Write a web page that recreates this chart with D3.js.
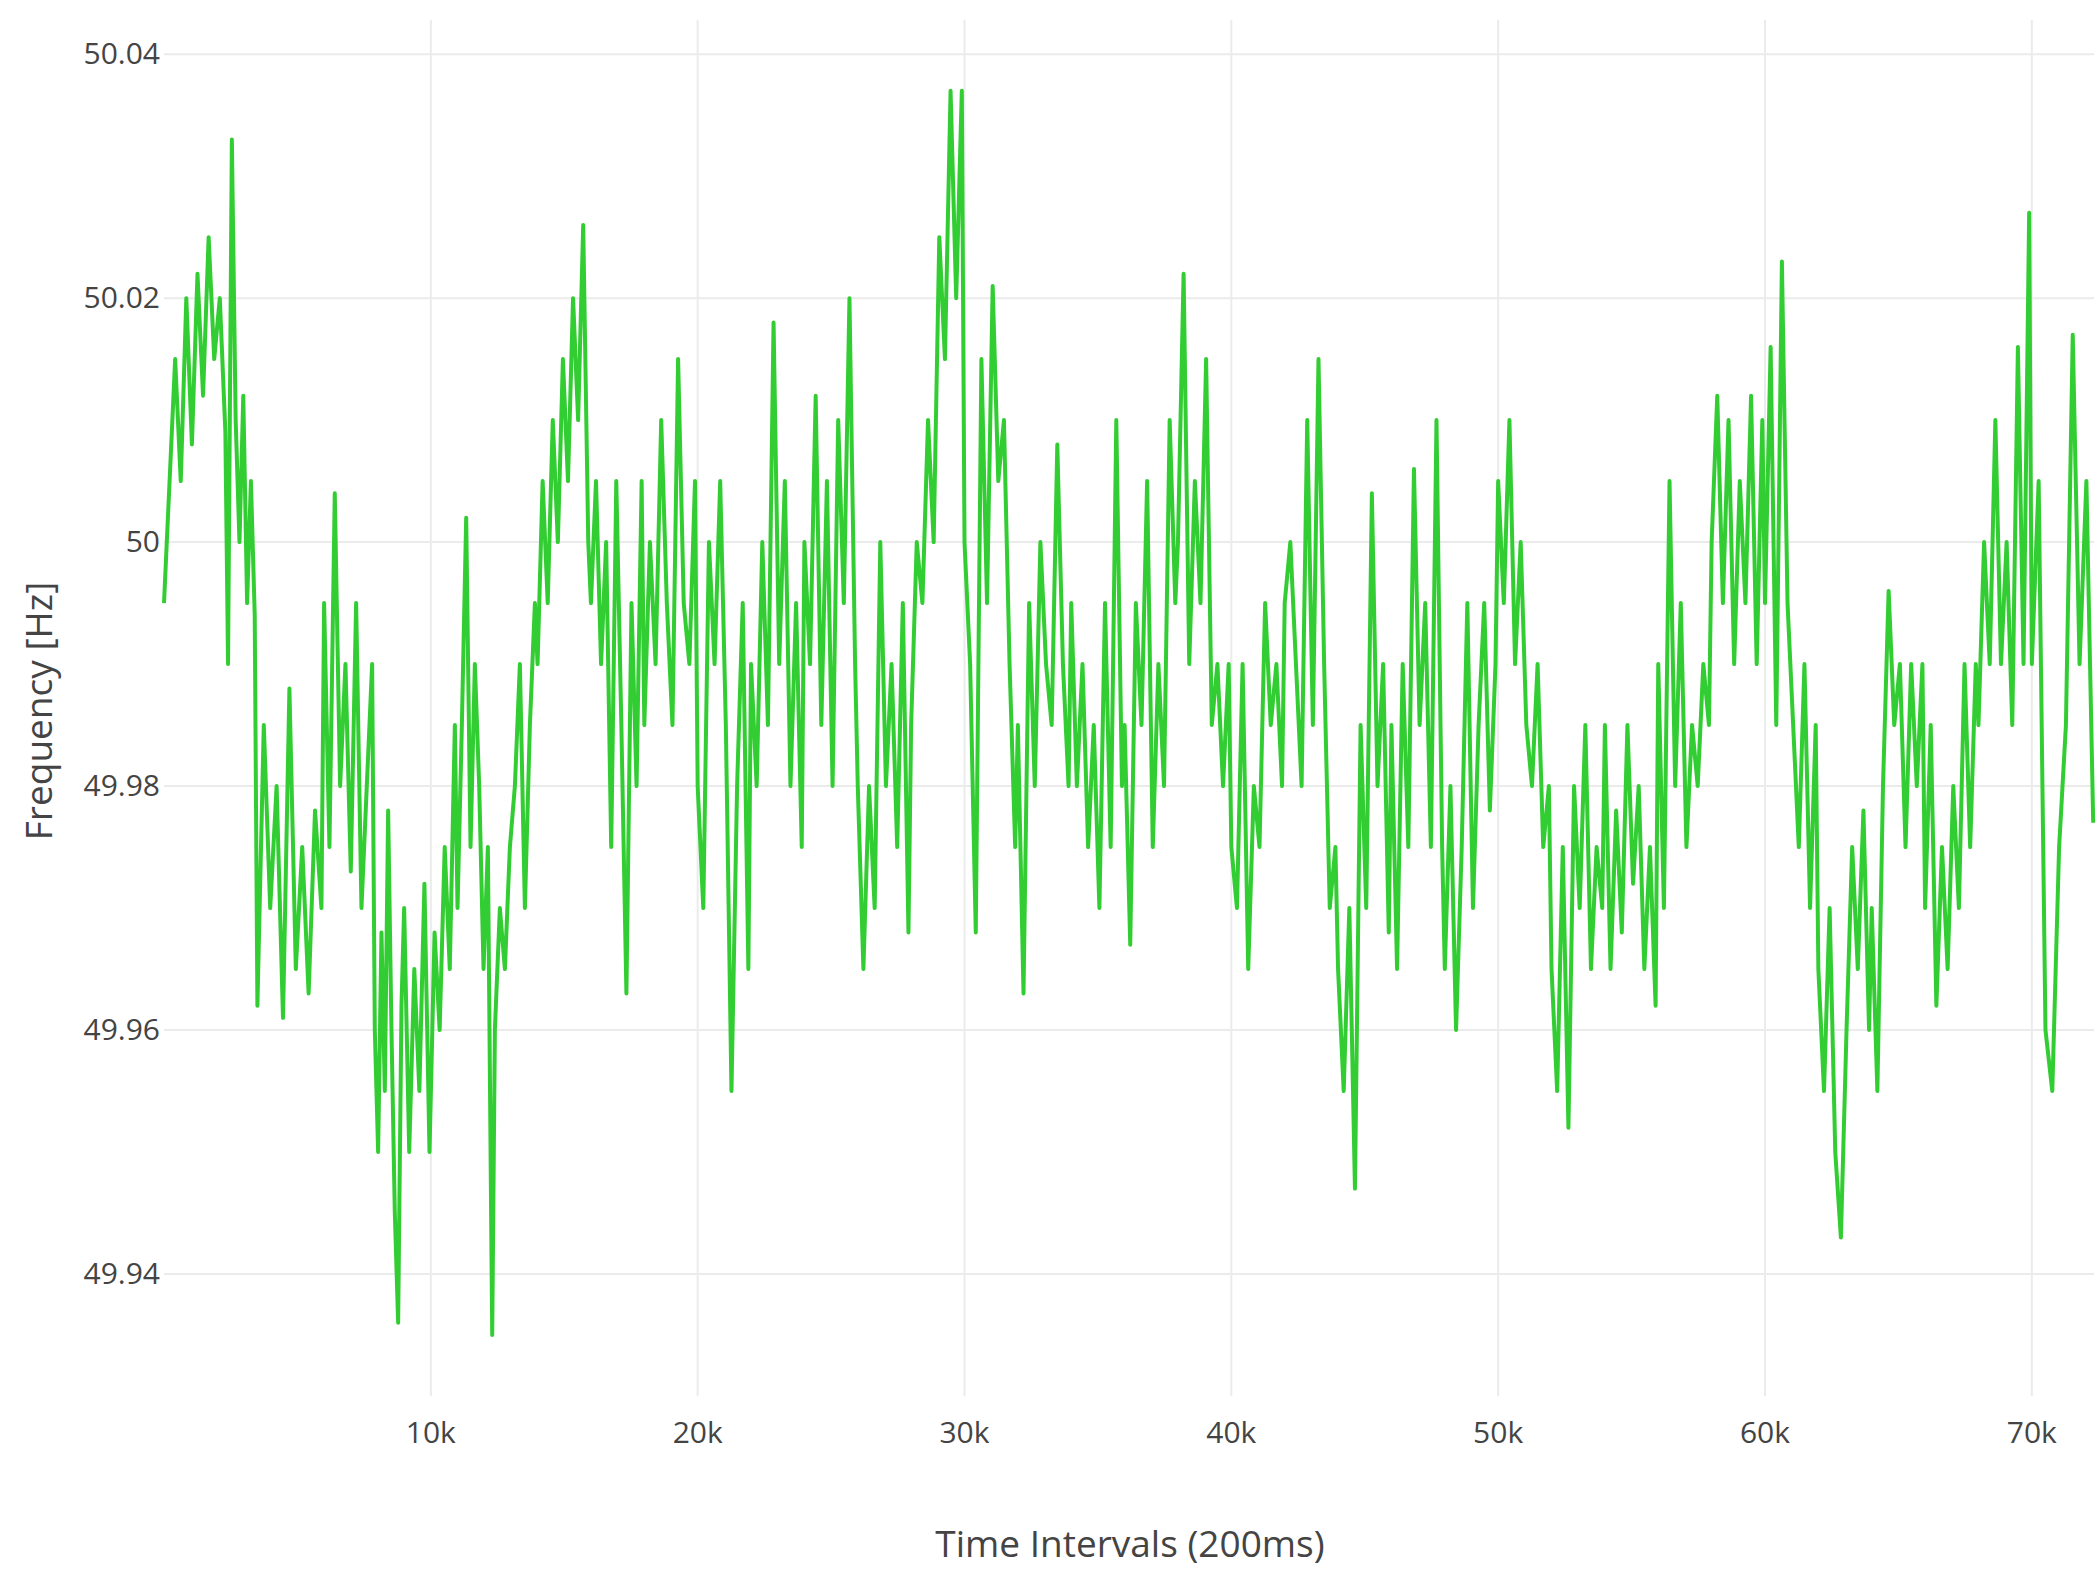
<!DOCTYPE html><html><head><meta charset="utf-8">
<script src="https://cdn.jsdelivr.net/npm/d3@7"></script>
<style>body{margin:0;background:#fff}</style></head><body><svg id="c" width="2100" height="1569"></svg>
<script>
const xTicks=[10000,20000,30000,40000,50000,60000,70000];
const xTickLabels=["10k","20k","30k","40k","50k","60k","70k"];
const yTicks=[49.94,49.96,49.98,50,50.02,50.04];
const yTickLabels=["49.94","49.96","49.98","50","50.02","50.04"];
// segment time spans (intervals) and the frequency readings inside each
const segStart=[0,2400,3500,6000,7900,9000,11000,12400,14000,16000,18000,20000,22000,24000,26000,28000,30000,32000,34000,36000,38000,40000,42000,44000,46000,48000,50000,52000,54000,56000,58000,60000,62000,64000,66000,68000,70000];
const segEnd=[2300,3400,5900,7800,8900,10900,12300,13900,15900,17900,19900,21900,23900,25900,27900,29900,31900,33900,35900,37900,39900,41900,43900,45900,47900,49900,51900,53900,55900,57900,59900,61900,63900,65900,67900,69900,72300];
const segValues=[
[49.995,50.005,50.015,50.005,50.02,50.008,50.022,50.012,50.025,50.015,50.02,50.009],
[49.99,50.033,50.01,50.0,50.012,49.995,50.005,49.994],
[49.962,49.985,49.97,49.98,49.961,49.988,49.965,49.975,49.963,49.978,49.97],
[49.995,49.975,50.004,49.98,49.99,49.973,49.995,49.97,49.98,49.99],
[49.96,49.95,49.968,49.955,49.978,49.96,49.945,49.936,49.962],
[49.97,49.95,49.965,49.955,49.972,49.95,49.968,49.96,49.975,49.965,49.985],
[49.97,49.985,50.002,49.975,49.99,49.98,49.965,49.975,49.935],
[49.96,49.97,49.965,49.975,49.98,49.99,49.97,49.985,49.995],
[49.99,50.005,49.995,50.01,50.0,50.015,50.005,50.02,50.01,50.026,50.0],
[49.995,50.005,49.99,50.0,49.975,50.005,49.985,49.963,49.995,49.98,50.005],
[49.985,50.0,49.99,50.01,49.995,49.985,50.015,49.995,49.99,50.005],
[49.98,49.97,50.0,49.99,50.005,49.985,49.955,49.98,49.995,49.965],
[49.99,49.98,50.0,49.985,50.018,49.99,50.005,49.98,49.995,49.975],
[50.0,49.99,50.012,49.985,50.005,49.98,50.01,49.995,50.02,49.99],
[49.98,49.965,49.98,49.97,50.0,49.98,49.99,49.975,49.995,49.968],
[49.985,50.0,49.995,50.01,50.0,50.025,50.015,50.037,50.02,50.037],
[50.0,49.99,49.968,50.015,49.995,50.021,50.005,50.01,49.99,49.975],
[49.985,49.963,49.995,49.98,50.0,49.99,49.985,50.008,49.99,49.98],
[49.995,49.98,49.99,49.975,49.985,49.97,49.995,49.975,50.01,49.98],
[49.985,49.967,49.995,49.985,50.005,49.975,49.99,49.98,50.01,49.995],
[50.0,50.022,49.99,50.005,49.995,50.015,49.985,49.99,49.98,49.99],
[49.975,49.97,49.99,49.965,49.98,49.975,49.995,49.985,49.99,49.98],
[49.995,50.0,49.99,49.98,50.01,49.985,50.015,49.99,49.97,49.975],
[49.965,49.955,49.97,49.947,49.985,49.97,50.004,49.98,49.99,49.968],
[49.985,49.965,49.99,49.975,50.006,49.985,49.995,49.975,50.01,49.975],
[49.965,49.98,49.96,49.975,49.995,49.97,49.985,49.995,49.978,49.99],
[50.005,49.995,50.01,49.99,50.0,49.985,49.98,49.99,49.975,49.98],
[49.965,49.955,49.975,49.952,49.98,49.97,49.985,49.965,49.975,49.97],
[49.985,49.965,49.978,49.968,49.985,49.972,49.98,49.965,49.975,49.962],
[49.99,49.97,50.005,49.98,49.995,49.975,49.985,49.98,49.99,49.985],
[50.0,50.012,49.995,50.01,49.99,50.005,49.995,50.012,49.99,50.01],
[49.995,50.016,49.985,50.023,49.995,49.985,49.975,49.99,49.97,49.985],
[49.965,49.955,49.97,49.95,49.943,49.96,49.975,49.965,49.978,49.96],
[49.97,49.955,49.98,49.996,49.985,49.99,49.975,49.99,49.98,49.99],
[49.97,49.985,49.962,49.975,49.965,49.98,49.97,49.99,49.975,49.99],
[49.985,50.0,49.99,50.01,49.99,50.0,49.985,50.016,49.99,50.027],
[49.99,50.005,49.96,49.955,49.975,49.985,50.017,49.99,50.005,49.977]];
const points=[];
segValues.forEach((vals,s)=>{const sc=d3.scaleLinear().domain([0,Math.max(1,vals.length-1)]).range([segStart[s],segEnd[s]]);vals.forEach((v,i)=>points.push([sc(i),v]));});
const L=164,R=2094,T=20,B=1396;
const svg=d3.select("#c");
const x=d3.scaleLinear().domain([0,72330]).range([L,R]);
const y=d3.scaleLinear().domain([49.93,50.0428]).range([B,T]);
const g=svg.append("g");
g.selectAll("line.v").data(xTicks).join("line").attr("x1",d=>x(d)).attr("x2",d=>x(d)).attr("y1",T).attr("y2",B).attr("stroke","#ebebeb").attr("stroke-width",2);
g.selectAll("line.h").data(yTicks).join("line").attr("y1",d=>y(d)).attr("y2",d=>y(d)).attr("x1",L).attr("x2",R).attr("stroke","#ebebeb").attr("stroke-width",2);
const font="'Open Sans', sans-serif";
svg.append("g").selectAll("text").data(xTicks).join("text").attr("x",d=>x(d)).attr("y",1443).attr("text-anchor","middle").attr("font-family",font).attr("font-size",30).attr("fill","#444").text((d,i)=>xTickLabels[i]);
svg.append("g").selectAll("text").data(yTicks).join("text").attr("x",160).attr("y",d=>y(d)+10).attr("text-anchor","end").attr("font-family",font).attr("font-size",30).attr("fill","#444").text((d,i)=>yTickLabels[i]);
const line=d3.line().x(d=>x(d[0])).y(d=>y(d[1]));
svg.append("path").datum(points).attr("d",line).attr("fill","none").attr("stroke","#32cd32").attr("stroke-width",4).attr("stroke-linejoin","round");
svg.append("text").attr("x",1130).attr("y",1557).attr("text-anchor","middle").attr("font-family",font).attr("font-size",37).attr("fill","#444").text("Time Intervals (200ms)");
svg.append("text").attr("transform","translate(52,711) rotate(-90)").attr("text-anchor","middle").attr("font-family",font).attr("font-size",37).attr("fill","#444").text("Frequency [Hz]");
</script></body></html>
